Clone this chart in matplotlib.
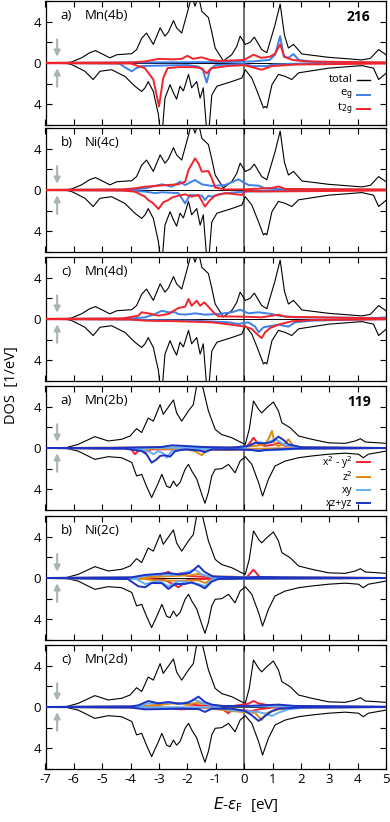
import matplotlib.pyplot as plt

plt.rcParams['font.family'] = ['Open Sans', 'DejaVu Sans']
plt.rcParams['axes.unicode_minus'] = False

# ---- total DOS, compound 216 (same curve in the three upper panels) ----
tot216_up = [(-6.32, 0), (-6.08, 0.1), (-5.73, 0.5), (-5.44, 1.0), (-5.24, 1.2), (-5.02, 0.9),
             (-4.73, 0.5), (-4.49, 0.8), (-3.96, 0.9), (-3.79, 1.3), (-3.61, 2.4), (-3.44, 2.9),
             (-3.2, 1.8), (-2.96, 3.4), (-2.79, 2.6), (-2.67, 3.0), (-2.49, 4.1), (-2.38, 3.4),
             (-2.2, 2.9), (-1.96, 5.3), (-1.85, 6.5), (-1.73, 5.5), (-1.61, 6.5), (-1.49, 5.0),
             (-1.26, 4.4), (-1.14, 3.0), (-1.02, 1.45), (-0.73, 0.2), (-0.44, 0.8), (-0.26, 1.6),
             (-0.14, 2.6), (0.04, 1.8), (0.21, 2.0), (0.36, 2.5), (0.62, 1.3), (0.8, 1.0),
             (1.09, 3.7), (1.27, 5.7), (1.42, 2.7), (1.56, 1.45), (1.74, 1.8), (2.04, 0.87),
             (2.98, 0.55), (4.15, 0.3), (4.45, 0.45), (4.74, 1.3), (5.0, 0.8)]
tot216_dn = [(-6.32, 0), (-6.08, -0.15), (-5.61, -0.8), (-5.32, -1.6), (-5.08, -0.8), (-4.67, -0.65),
             (-4.2, -1.3), (-3.85, -2.25), (-3.61, -2.75), (-3.49, -2.4), (-3.38, -1.8), (-3.2, -2.75),
             (-3.02, -5.0), (-2.96, -6.5), (-2.88, -6.5), (-2.79, -3.4), (-2.61, -2.1), (-2.49, -2.9),
             (-2.38, -3.5), (-2.26, -2.25), (-2.14, -2.7), (-1.96, -1.1), (-1.85, -2.4), (-1.67, -1.8),
             (-1.55, -3.4), (-1.44, -2.4), (-1.32, -6.5), (-1.24, -6.5), (-1.14, -3.1), (-0.96, -2.25),
             (-0.79, -2.1), (-0.44, -1.8), (-0.08, -1.45), (0.04, -0.65), (0.27, -1.45), (0.51, -3.1),
             (0.68, -4.35), (0.74, -4.2), (0.8, -4.35), (0.98, -2.1), (1.21, -1.1), (1.45, -1.3),
             (1.68, -1.6), (1.92, -0.95), (2.98, -0.5), (4.15, -0.25), (4.56, -0.5), (4.74, -1.6),
             (5.0, -1.0)]

# ---- total DOS, compound 119 (same curve in the three lower panels) ----
tot119_up = [(-6.32, 0), (-5.85, 0.35), (-5.26, 1.1), (-4.79, 0.68), (-4.32, 0.84), (-4.02, 1.16),
             (-3.79, 1.87), (-3.61, 1.5), (-3.38, 2.9), (-3.2, 2.6), (-2.96, 4.2), (-2.85, 3.26),
             (-2.49, 4.65), (-2.38, 3.4), (-2.2, 2.6), (-1.96, 3.6), (-1.79, 4.2), (-1.61, 7.0),
             (-1.45, 5.8), (-1.26, 3.6), (-1.02, 1.8), (-0.79, 1.3), (-0.44, 1.0), (-0.08, 0.5),
             (0.04, 0.35), (0.18, 1.8), (0.33, 4.55), (0.51, 3.74), (0.62, 3.4), (0.8, 3.9),
             (1.03, 4.45), (1.21, 3.58), (1.33, 2.45), (1.62, 1.97), (1.92, 1.16), (2.39, 0.84),
             (2.98, 0.5), (3.56, 0.45), (3.92, 0.68), (4.1, 0.9), (4.27, 0.58), (4.74, 0.5), (5.0, 0.45)]
tot119_dn = [(-6.32, 0), (-5.85, -0.3), (-5.26, -1.1), (-4.79, -0.84), (-4.32, -0.94), (-3.96, -1.4),
             (-3.79, -2.7), (-3.61, -2.55), (-3.44, -3.7), (-3.26, -4.8), (-3.02, -3.35), (-2.9, -2.55),
             (-2.73, -3.7), (-2.61, -3.84), (-2.49, -3.2), (-2.38, -3.7), (-2.26, -3.35), (-2.08, -2.06),
             (-1.96, -1.58), (-1.85, -2.2), (-1.67, -3.0), (-1.49, -4.5), (-1.38, -5.35), (-1.26, -4.3),
             (-1.14, -2.7), (-1.02, -2.06), (-0.79, -2.0), (-0.55, -1.58), (-0.32, -2.4), (-0.14, -1.26),
             (0.04, -0.84), (0.27, -1.58), (0.51, -3.35), (0.65, -4.65), (0.86, -3.0), (1.09, -1.74),
             (1.45, -1.26), (1.92, -0.94), (2.39, -0.77), (2.98, -0.6), (3.56, -0.5), (4.03, -0.6),
             (4.2, -0.94), (4.38, -0.6), (5.0, -0.3)]

# ---- panel a) Mn(4b), 216 ----
mn4b_eg_up = [(-7, 0), (-4, 0.05), (-0.5, 0.1), (0.3, 0.15), (0.9, 0.3), (1.09, 0.8), (1.27, 2.6),
              (1.4, 0.6), (1.56, 0.5), (1.74, 0.87), (1.92, 0.3), (2.5, 0.1), (5, 0.03)]
mn4b_eg_dn = [(-7, 0), (-4.4, -0.05), (-4.15, -0.5), (-3.96, -0.8), (-3.8, -0.5), (-3.6, -0.3),
              (-3.0, -0.25), (-2.0, -0.2), (-1.6, -0.35), (-1.45, -0.7), (-1.32, -1.9), (-1.2, -0.6),
              (-1.0, -0.2), (0, -0.1), (0.3, -0.3), (0.8, -0.3), (1.0, -0.15), (2, -0.05), (5, 0)]
mn4b_t2g_up = [(-7, 0.02), (-4, 0.05), (-3.5, 0.15), (-3.0, 0.4), (-2.5, 0.35), (-2.2, 0.4), (-2.0, 0.7),
               (-1.8, 0.4), (-1.5, 0.55), (-1.2, 0.3), (-0.9, 0.2), (-0.4, 0.25), (0, 0.3), (0.33, 0.8),
               (0.6, 0.5), (0.9, 0.6), (1.09, 0.9), (1.27, 1.8), (1.42, 0.6), (1.7, 0.3), (2.2, 0.15),
               (5, 0.05)]
mn4b_t2g_dn = [(-7, -0.02), (-4, -0.05), (-3.5, -0.5), (-3.2, -1.6), (-3.0, -4.2), (-2.85, -1.45),
               (-2.7, -0.5), (-2.3, -0.4), (-1.8, -0.4), (-1.5, -0.5), (-1.32, -1.0), (-1.15, -0.5),
               (-0.6, -0.3), (0, -0.2), (0.27, -0.4), (0.62, -0.65), (0.98, -0.3), (1.8, -0.15),
               (5, -0.05)]

# ---- panel b) Ni(4c), 216 ----
ni4c_eg_up = [(-7, 0), (-4, 0.05), (-3.5, 0.15), (-2.9, 0.55), (-2.55, 0.32), (-2.26, 0.8), (-2.08, 0.48),
              (-1.73, 0.97), (-1.49, 0.55), (-1.14, 0.39), (-0.67, 0.48), (-0.2, 1.03), (0.15, 0.48),
              (0.51, 0.42), (0.74, 0.16), (1.3, 0.08), (5, 0.02)]
ni4c_eg_dn = [(-7, 0), (-4, -0.05), (-3.49, -0.16), (-3.14, -0.3), (-2.9, -0.22), (-2.32, -0.3),
              (-2.08, -1.3), (-1.91, -0.48), (-1.49, -0.55), (-1.38, -0.97), (-1.26, -0.55),
              (-1.14, -0.65), (-0.91, -0.42), (-0.44, -0.26), (0.04, -0.16), (1, -0.05), (5, 0)]
ni4c_t2g_up = [(-7, 0.02), (-4.3, 0.05), (-3.85, 0.16), (-3.49, 0.32), (-3.02, 0.42), (-2.32, 0.55),
               (-2.08, 0.8), (-1.96, 1.94), (-1.73, 3.06), (-1.61, 2.58), (-1.49, 1.77), (-1.26, 1.84),
               (-1.14, 1.13), (-1.02, 0.23), (-0.67, 0.06), (0.04, 0.06), (1.0, 0.2), (1.21, 0.35),
               (1.45, 0.1), (5, 0.05)]
ni4c_t2g_dn = [(-7, -0.02), (-4.3, -0.05), (-3.85, -0.16), (-3.49, -0.65), (-3.38, -0.97), (-3.2, -1.29),
               (-3.02, -1.84), (-2.85, -1.19), (-2.67, -0.97), (-2.55, -0.74), (-2.32, -0.55),
               (-2.08, -0.42), (-1.85, -0.65), (-1.61, -0.48), (-1.38, -1.6), (-1.2, -0.97),
               (-1.02, -0.55), (-0.67, -0.3), (-0.08, -0.48), (0.04, -0.1), (0.6, -0.15), (5, -0.05)]

# ---- panel c) Mn(4d), 216 ----
mn4d_eg_up = [(-7, 0), (-4, 0.05), (-3.49, 0.16), (-3.14, 0.48), (-2.9, 0.8), (-2.67, 0.65), (-2.43, 0.65),
              (-2.32, 0.48), (-2.08, 0.42), (-1.73, 0.55), (-1.38, 0.42), (-0.91, 0.48), (-0.44, 0.65),
              (-0.14, 0.9), (0.15, 0.55), (0.51, 0.65), (0.98, 0.48), (1.21, 0.32), (1.8, 0.16),
              (4.7, 0.1), (5, 0.16)]
mn4d_eg_dn = [(-7, 0), (-4, -0.05), (-3.49, -0.1), (-1.73, -0.16), (-0.55, -0.32), (-0.2, -0.48),
              (0.15, -0.32), (0.39, -0.74), (0.51, -1.29), (0.68, -0.8), (1.21, -0.55), (1.56, -0.74),
              (1.8, -0.32), (2.4, -0.16), (5, 0)]
mn4d_t2g_up = [(-7, 0.02), (-4.3, 0.05), (-3.73, 0.32), (-3.61, 0.65), (-3.38, 0.55), (-3.02, 0.32),
               (-2.67, 0.48), (-2.32, 1.06), (-2.08, 1.19), (-1.96, 1.94), (-1.85, 1.29), (-1.67, 1.77),
               (-1.55, 1.29), (-1.4, 1.61), (-1.26, 1.19), (-1.08, 0.65), (-0.91, 0.26), (0.04, 0.22),
               (0.62, 0.16), (1.21, 0.42), (1.45, 0.22), (5, 0.05)]
mn4d_t2g_dn = [(-7, -0.02), (-4, -0.05), (-3.49, -0.16), (-2.32, -0.22), (-1.14, -0.32), (-0.44, -0.55),
               (0.04, -0.74), (0.27, -0.97), (0.51, -1.61), (0.62, -1.84), (0.74, -1.29), (0.92, -0.87),
               (1.21, -0.55), (1.68, -0.22), (2.4, -0.1), (5, -0.03)]

# ---- panel a) Mn(2b), 119 ----
mn2b_x2y2_up = [(-7, 0), (-4, 0.03), (0.04, 0.03), (0.21, 0.5), (0.33, 1.0), (0.51, 0.35), (0.74, 0.2),
                (1.09, 0.35), (1.21, 0.5), (1.45, 0.2), (2, 0.05), (5, 0)]
mn2b_x2y2_dn = [(-7, 0), (-4.0, -0.06), (-3.85, -0.6), (-3.67, -0.13), (-3.49, -0.4), (-3.26, -0.13),
                (-2.32, -0.13), (-0.55, -0.2), (0.27, -0.13), (1.5, -0.05), (5, 0)]
mn2b_z2_up = [(-7, 0), (-0.55, 0.03), (0.39, 0.2), (0.74, 0.35), (0.88, 1.0), (0.98, 1.65), (1.09, 0.35),
              (1.21, 0.2), (1.45, 0.45), (1.56, 0.84), (1.74, 0.2), (2.04, 0.03), (5, 0)]
mn2b_z2_dn = [(-7, 0), (-4, -0.03), (-3.49, -0.23), (-3.26, -0.06), (-2.08, -0.13), (-1.73, -0.3),
              (-1.49, -0.7), (-1.32, -0.2), (-0.91, -0.13), (1, -0.05), (5, 0)]
mn2b_xy_up = [(-7, 0), (0.04, 0.03), (0.27, 0.35), (0.51, 0.58), (0.74, 0.45), (1.09, 0.84), (1.27, 0.58),
              (1.45, 0.26), (1.92, 0.03), (5, 0)]
mn2b_xy_dn = [(-7, 0), (-3.8, -0.06), (-3.38, -0.3), (-3.2, -0.6), (-3.02, -0.3), (-2.85, -0.52),
              (-2.73, -0.94), (-2.55, -0.3), (-2.08, -0.13), (0.04, -0.13), (0.51, -0.23), (1.21, -0.2),
              (1.92, -0.06), (5, 0)]
mn2b_xzyz_up = [(-7, 0), (-4.67, 0.0), (-2.9, 0.1), (-2.55, 0.26), (-2.08, 0.2), (-1.49, 0.1), (-0.44, 0.03),
                (0.15, 0.2), (0.39, 0.5), (0.74, 0.45), (0.98, 0.58), (1.21, 1.1), (1.39, 0.77),
                (1.56, 0.35), (2.04, 0.06), (5, 0)]
mn2b_xzyz_dn = [(-7, 0), (-4.2, -0.06), (-3.61, -0.3), (-3.44, -0.6), (-3.26, -1.42), (-3.08, -1.1),
                (-2.96, -0.77), (-2.79, -0.7), (-2.61, -0.84), (-2.43, -0.3), (-2.08, -0.13),
                (-1.61, -0.23), (-1.38, -0.4), (-1.14, -0.13), (-0.2, -0.13), (0.27, -0.2), (0.51, -0.3),
                (0.74, -0.2), (1.21, -0.13), (2, -0.05), (5, 0)]

# ---- panel b) Ni(2c), 119 ----
ni2c_x2y2_up = [(-7, 0), (-3.8, 0.03), (-3.0, 0.2), (-2.67, 0.6), (-2.5, 0.3), (-2.2, 0.48), (-2.0, 0.2),
                (-1.0, 0.05), (0.1, 0.1), (0.33, 0.8), (0.55, 0.1), (1.2, 0.05), (5, 0)]
ni2c_x2y2_dn = [(-7, 0), (-3.5, -0.05), (-2.8, -0.2), (-2.5, -0.58), (-2.32, -0.9), (-2.2, -0.68),
                (-2.0, -0.2), (-1.5, -0.1), (0, -0.05), (5, 0)]
ni2c_z2_up = [(-7, 0), (-3.5, 0.05), (-2.5, 0.2), (-1.9, 0.25), (-1.61, 0.4), (-1.3, 0.2), (-0.9, 0.13),
              (-0.44, 0.13), (0, 0.05), (5, 0)]
ni2c_z2_dn = [(-7, 0), (-3.5, -0.1), (-3.14, -0.23), (-2.32, -0.26), (-1.61, -0.23), (-1.38, -0.48),
              (-1.1, -0.1), (5, 0)]
ni2c_xy_up = [(-7, 0), (-3.8, 0.05), (-3.4, 0.25), (-2.9, 0.35), (-2.4, 0.3), (-1.73, 0.8), (-1.45, 0.3),
              (-1.1, 0.05), (5, 0)]
ni2c_xy_dn = [(-7, 0), (-3.8, -0.1), (-3.49, -0.58), (-3.0, -0.3), (-2.67, -0.8), (-2.3, -0.3),
              (-1.61, -0.58), (-1.38, -0.8), (-1.1, -0.1), (5, 0)]
ni2c_xzyz_up = [(-7, 0), (-4.0, 0.05), (-3.49, 0.3), (-3.0, 0.4), (-2.67, 0.48), (-2.3, 0.35), (-1.9, 0.5),
                (-1.61, 1.2), (-1.4, 0.6), (-1.1, 0.15), (0, 0.05), (0.5, 0.1), (1.4, 0.06), (5, 0)]
ni2c_xzyz_dn = [(-7, 0), (-4.1, -0.1), (-3.73, -0.8), (-3.49, -0.9), (-3.26, -0.48), (-2.9, -0.5),
                (-2.67, -1.06), (-2.43, -0.58), (-2.08, -0.58), (-1.85, -0.42), (-1.61, -0.68),
                (-1.38, -1.0), (-1.14, -0.35), (-0.91, -0.1), (0, -0.05), (5, 0)]

# ---- panel c) Mn(2d), 119 ----
mn2d_x2y2_up = [(-7, 0), (-3.8, 0.03), (-3.0, 0.2), (-2.55, 0.42), (-2.08, 0.26), (-1.5, 0.15), (-0.5, 0.05),
                (0.15, 0.32), (0.33, 0.58), (0.51, 0.35), (0.74, 0.23), (1.0, 0.05), (5, 0)]
mn2d_x2y2_dn = [(-7, 0), (-3.0, -0.05), (-2.2, -0.23), (-1.5, -0.1), (-0.8, -0.15), (-0.55, -0.61),
                (-0.44, -0.23), (0.27, -0.39), (0.51, -0.23), (1.0, -0.05), (5, 0)]
mn2d_z2_up = [(-7, 0), (-3.6, 0.05), (-2.49, 0.35), (-2.0, 0.25), (-1.61, 0.42), (-1.14, 0.2), (-0.5, 0.05),
              (0.8, 0.1), (1.5, 0.03), (5, 0)]
mn2d_z2_dn = [(-7, 0), (-1.5, -0.05), (-0.44, -0.39), (0.39, -0.58), (0.62, -1.26), (0.8, -0.58),
              (1.21, -0.23), (2, -0.05), (5, 0)]
mn2d_xy_up = [(-7, 0), (-3.8, 0.05), (-3.38, 0.35), (-2.67, 0.42), (-2.2, 0.3), (-1.73, 0.68), (-1.38, 0.32),
              (-1.0, 0.08), (5, 0)]
mn2d_xy_dn = [(-7, 0), (-1.0, -0.05), (-0.44, -0.32), (0.51, -0.48), (0.8, -0.68), (0.98, -0.87),
              (1.21, -0.55), (1.56, -0.23), (2.1, -0.05), (5, 0)]
mn2d_xzyz_up = [(-7, 0), (-4.0, 0.05), (-3.73, 0.16), (-3.38, 0.58), (-3.02, 0.35), (-2.67, 0.48),
                (-2.32, 0.32), (-1.96, 0.42), (-1.61, 1.0), (-1.38, 0.48), (-1.14, 0.23), (-0.79, 0.1),
                (0.04, 0.1), (0.62, 0.16), (1.21, 0.23), (1.8, 0.1), (5, 0.03)]
mn2d_xzyz_dn = [(-7, 0), (-4.0, -0.05), (-3.49, -0.23), (-2.2, -0.16), (-1.61, -0.2), (-1.38, -0.48),
                (-1.14, -0.16), (-0.44, -0.16), (0.04, -0.39), (0.27, -0.8), (0.51, -1.35), (0.74, -0.87),
                (0.98, -0.39), (1.21, -0.16), (2, -0.05), (5, 0)]

C_EG = '#3f7fe8'
C_T2G = '#f0242b'
C_X2Y2 = '#ee2430'
C_Z2 = '#dc8a12'
C_XY = '#62aef8'
C_XZYZ = '#1b33c4'
C_ARROW = '#a8b6af'

legend216 = [('total', 'black'), (r'e$_\mathrm{g}$', C_EG), (r't$_\mathrm{2g}$', C_T2G)]
legend119 = [(r'x$^2$ - y$^2$', C_X2Y2), (r'z$^2$', C_Z2), ('xy', C_XY), ('xz+yz', C_XZYZ)]

panels = [
    ('a)', 'Mn(4b)', tot216_up, tot216_dn,
     [(C_EG, mn4b_eg_up, mn4b_eg_dn), (C_T2G, mn4b_t2g_up, mn4b_t2g_dn)]),
    ('b)', 'Ni(4c)', tot216_up, tot216_dn,
     [(C_EG, ni4c_eg_up, ni4c_eg_dn), (C_T2G, ni4c_t2g_up, ni4c_t2g_dn)]),
    ('c)', 'Mn(4d)', tot216_up, tot216_dn,
     [(C_EG, mn4d_eg_up, mn4d_eg_dn), (C_T2G, mn4d_t2g_up, mn4d_t2g_dn)]),
    ('a)', 'Mn(2b)', tot119_up, tot119_dn,
     [(C_X2Y2, mn2b_x2y2_up, mn2b_x2y2_dn), (C_Z2, mn2b_z2_up, mn2b_z2_dn),
      (C_XY, mn2b_xy_up, mn2b_xy_dn), (C_XZYZ, mn2b_xzyz_up, mn2b_xzyz_dn)]),
    ('b)', 'Ni(2c)', tot119_up, tot119_dn,
     [(C_X2Y2, ni2c_x2y2_up, ni2c_x2y2_dn), (C_Z2, ni2c_z2_up, ni2c_z2_dn),
      (C_XY, ni2c_xy_up, ni2c_xy_dn), (C_XZYZ, ni2c_xzyz_up, ni2c_xzyz_dn)]),
    ('c)', 'Mn(2d)', tot119_up, tot119_dn,
     [(C_X2Y2, mn2d_x2y2_up, mn2d_x2y2_dn), (C_Z2, mn2d_z2_up, mn2d_z2_dn),
      (C_XY, mn2d_xy_up, mn2d_xy_dn), (C_XZYZ, mn2d_xzyz_up, mn2d_xzyz_dn)]),
]

# panel top/bottom in pixels (figure is 822 px high)
panel_px = [(1, 125), (128, 252), (257, 381), (386, 510), (516, 640), (645, 769)]


def xy(pts):
    return [p[0] for p in pts], [p[1] for p in pts]


def key(ax, entries, rows_y, size):
    # hand-placed legend: label right-aligned, short line to its right
    for (lab, col), yy in zip(entries, rows_y):
        ax.text(0.902, yy, lab, transform=ax.transAxes, fontsize=size,
                ha='right', va='center')
        ax.plot([0.915, 0.952], [yy, yy], transform=ax.transAxes, color=col,
                lw=1.0 if col == 'black' else 1.4, clip_on=False)


fig = plt.figure(figsize=(3.9, 8.22), dpi=100)
H = 822.0
axes = []
for i, (lab, site, tup, tdn, parts) in enumerate(panels):
    top, bot = panel_px[i]
    ax = fig.add_axes([45.5 / 390, 1 - bot / H, 340.5 / 390, (bot - top) / H])
    axes.append(ax)

    ax.axvline(0, color='#555555', lw=1.2, zorder=1)
    ax.axhline(0, color='black', lw=0.7, zorder=1)
    ax.plot(*xy(tup), color='black', lw=0.8, zorder=2)
    ax.plot(*xy(tdn), color='black', lw=0.8, zorder=2)
    for col, up, dn in parts:
        ax.plot(*xy(up), color=col, lw=1.4, zorder=3)
        ax.plot(*xy(dn), color=col, lw=1.4, zorder=3)

    ax.set_xlim(-7, 5)
    ax.set_ylim(-6, 6)
    ax.set_xticks(range(-7, 6))
    ax.set_yticks([-6, -4, -2, 0, 2, 4, 6])
    ax.set_yticklabels(['', '4', '', '0', '', '4', ''])
    ax.tick_params(direction='in', top=True, right=True, length=4, width=0.8,
                   labelsize=9.5, pad=3)
    if i < 5:
        ax.set_xticklabels([])
    for s in ax.spines.values():
        s.set_linewidth(0.9)

    ax.text(0.045, 0.885, lab, transform=ax.transAxes, fontsize=9.5, va='center')
    ax.text(0.116, 0.885, site, transform=ax.transAxes, fontsize=9.5, va='center')

    # spin arrows
    ax.annotate('', xy=(-6.59, 0.6), xytext=(-6.59, 2.3),
                arrowprops=dict(arrowstyle='-|>', color=C_ARROW, lw=1.5, mutation_scale=9,
                                shrinkA=0, shrinkB=0))
    ax.annotate('', xy=(-6.59, -0.5), xytext=(-6.59, -2.3),
                arrowprops=dict(arrowstyle='-|>', color=C_ARROW, lw=1.5, mutation_scale=9,
                                shrinkA=0, shrinkB=0))

axes[0].text(0.955, 0.87, '216', transform=axes[0].transAxes, fontsize=10,
             fontweight='bold', ha='right', va='center')
axes[3].text(0.955, 0.87, '119', transform=axes[3].transAxes, fontsize=10,
             fontweight='bold', ha='right', va='center')

key(axes[0], legend216, [0.365, 0.245, 0.13], 8)
key(axes[3], legend119, [0.385, 0.265, 0.16, 0.055], 7.5)

fig.text(0.03, 0.532, 'DOS  [1/eV]', rotation=90, fontsize=10.5, ha='center', va='center')
fig.text(0.63, 0.021, r'$E$-$\varepsilon_\mathrm{F}$  [eV]', fontsize=11, ha='center', va='center')

fig.savefig('out.png', dpi=100)
